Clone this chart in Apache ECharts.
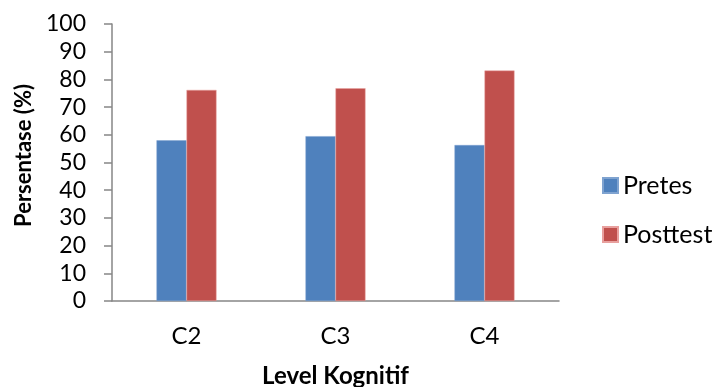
<!DOCTYPE html>
<html>
<head>
<meta charset="utf-8">
<script src="https://cdn.jsdelivr.net/npm/echarts@6/dist/echarts.min.js"></script>
<style>html,body{margin:0;padding:0;background:#fff;}#c{width:712px;height:387px;}</style>
</head>
<body>
<div id="c"></div>
<script>
const categories = ['C2', 'C3', 'C4'];
const pretes = [58, 59.5, 56.3];
const posttest = [76.2, 76.8, 83.2];
const yTicks = { min: 0, max: 100, interval: 10 };

const FONT = 'Lato';
const chart = echarts.init(document.getElementById('c'), null, { renderer: 'canvas' });
chart.setOption({
  animation: false,
  backgroundColor: '#ffffff',
  grid: { left: 112, right: 153, top: 24, bottom: 86, containLabel: false, outerBoundsMode: 'none' },
  legend: {
    orient: 'vertical',
    left: 597, top: 168,
    itemWidth: 15, itemHeight: 15, itemGap: 24,
    icon: 'rect',
    textStyle: { fontFamily: FONT, fontSize: 25, color: '#000' },
    data: ['Pretes', 'Posttest']
  },
  xAxis: {
    type: 'category',
    data: categories,
    name: 'Level Kognitif',
    nameLocation: 'middle',
    nameGap: 63,
    nameTextStyle: { fontFamily: FONT, fontSize: 24, fontWeight: 'bold', color: '#000' },
    axisLine: { lineStyle: { color: '#868686', width: 1.5 } },
    axisTick: { show: false },
    axisLabel: { fontFamily: FONT, fontSize: 24, color: '#000', margin: 23 }
  },
  yAxis: {
    type: 'value',
    min: yTicks.min, max: yTicks.max, interval: yTicks.interval,
    name: 'Persentase (%)',
    nameLocation: 'middle',
    nameGap: 75,
    nameTextStyle: { fontFamily: FONT, fontSize: 22, fontWeight: 'bold', color: '#000', padding: [0, 0, 0, 14] },
    axisLine: { show: true, lineStyle: { color: '#868686', width: 1.5 } },
    axisTick: { show: true, length: 8, lineStyle: { color: '#868686', width: 1.5 } },
    splitLine: { show: false },
    axisLabel: { fontFamily: FONT, fontSize: 23, color: '#000', margin: 26 }
  },
  series: [
    { name: 'Pretes', type: 'bar', data: pretes, barWidth: 30, barGap: '0%',
      itemStyle: { color: '#4F81BD', borderColor: '#7FA3D0', borderWidth: 0.5 } },
    { name: 'Posttest', type: 'bar', data: posttest, barWidth: 30, barGap: '0%',
      itemStyle: { color: '#C0504D', borderColor: '#E8A09E', borderWidth: 0.5 } }
  ]
});
</script>
</body>
</html>
